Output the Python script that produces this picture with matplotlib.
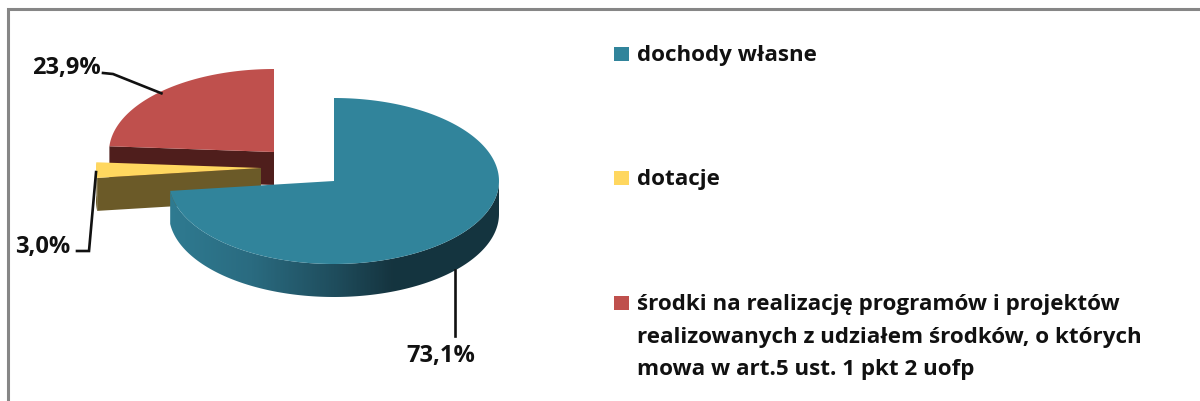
import matplotlib
matplotlib.use('Agg')
import matplotlib.pyplot as plt
import numpy as np
from matplotlib.colors import LinearSegmentedColormap
from matplotlib.patches import Polygon, Rectangle

categories = ["dochody własne", "dotacje",
              "środki na realizację programów i projektów\nrealizowanych z udziałem środków, o których\nmowa w art.5 ust. 1 pkt 2 uofp"]
values = [73.1, 3.0, 23.9]
labels = ["73,1%", "3,0%", "23,9%"]

top_colors = ['#31849b', '#ffd75f', '#bf504d']
side_colors = ['#14343f', '#6b5a28', '#4f1e1c']
centers = [(334, 181), (261, 168), (274, 152)]   # exploded slice apexes, px
RX, RY, DEPTH = 165, 83, 33
FONT = 'Open Sans'
INK = '#111111'

fig = plt.figure(figsize=(12.0, 4.01), dpi=100, facecolor='white')
ax = fig.add_axes([0, 0, 1, 1])


def rim(center, a0, a1, n=200):
    # angles in degrees, clockwise from 12 o'clock
    t = np.radians(np.linspace(a0, a1, n))
    return np.column_stack([center[0] + RX * np.sin(t), center[1] - RY * np.cos(t)])


def anchor(center, angle, drop=0):
    p = rim(center, angle, angle, 1)[0]
    return p[0], p[1] + drop


edges = np.concatenate([[0], np.cumsum(values)]) / sum(values) * 360
mids = (edges[:-1] + edges[1:]) / 2

# back to front: red, yellow, teal
for i in [2, 1, 0]:
    c = centers[i]
    a0, a1 = edges[i], edges[i + 1]
    top = rim(c, a0, a1)
    apex = np.array(c, dtype=float)
    drop = np.array([0, DEPTH])
    # cut faces and outer wall, only what faces the viewer
    if i == 2:
        face = np.array([top[0], apex, apex + drop, top[0] + drop])
        ax.add_patch(Polygon(face, closed=True, fc=side_colors[i], ec='none', zorder=2))
    elif i == 1:
        face = np.array([top[0], apex, apex + drop, top[0] + drop])
        ax.add_patch(Polygon(face, closed=True, fc=side_colors[i], ec='none', zorder=4))
        wall = np.vstack([top, (top + drop)[::-1]])
        ax.add_patch(Polygon(wall, closed=True, fc=side_colors[i], ec='none', zorder=4))
    else:
        # outer wall of the big slice, shaded from left to right
        front = rim(c, 90, a1)
        wall = np.vstack([front, (front + drop)[::-1]])
        patch = Polygon(wall, closed=True, fc='none', ec='none', zorder=6)
        ax.add_patch(patch)
        cmap = LinearSegmentedColormap.from_list(
            'wall', [(0, '#2f7b91'), (0.25, '#2a6b80'), (0.5, '#1f4d5d'), (0.68, '#15343f'), (1, '#14343f')])
        im = ax.imshow(np.linspace(0, 1, 330).reshape(1, -1), cmap=cmap, aspect='auto',
                       extent=[c[0] - RX, c[0] + RX, c[1] + RY + DEPTH, c[1] - RY], zorder=6)
        im.set_clip_path(patch)
    z = {0: 7, 1: 5, 2: 3}[i]
    ax.add_patch(Polygon(np.vstack([apex, top]), closed=True, fc=top_colors[i], ec='none', zorder=z))

# leader lines, from the rim at each slice's middle angle
line_kw = dict(color=INK, lw=1.9, solid_joinstyle='miter', zorder=9)
x, y = anchor(centers[0], mids[0], DEPTH)
ax.plot([x - 2, x - 2], [y + 1, 336], **line_kw)
x, y = anchor(centers[1], mids[1])
ax.plot([x, 89, 77], [y + 2, 251, 251], **line_kw)
x, y = anchor(centers[2], mids[2])
ax.plot([x, 113, 103], [y + 2, 74, 73], **line_kw)

label_kw = dict(fontsize=17, fontweight='bold', family=FONT, color=INK, ha='center', va='center', zorder=10)
ax.text(441, 356, labels[0], **label_kw)
ax.text(43, 247, labels[1], **label_kw)
ax.text(66, 68, labels[2], **label_kw)

# legend
legend_y = [54, 178, 303]
for cat, col, ly in zip(categories, top_colors, legend_y):
    ax.add_patch(Rectangle((614, ly - 7), 15, 14, fc=col, ec='none', zorder=8))
    ax.text(637, ly - 9, cat, fontsize=16.1, fontweight='bold', family=FONT, color=INK,
            ha='left', va='top', linespacing=1.72, zorder=10)

# chart frame, cropped on the right and bottom
ax.plot([8, 8, 1200], [401, 9, 9], color='#868686', lw=2.2, solid_joinstyle='miter', zorder=1)

ax.set_xlim(0, 1200)
ax.set_ylim(401, 0)
ax.axis('off')

fig.savefig('out.png', dpi=100, facecolor='white')
